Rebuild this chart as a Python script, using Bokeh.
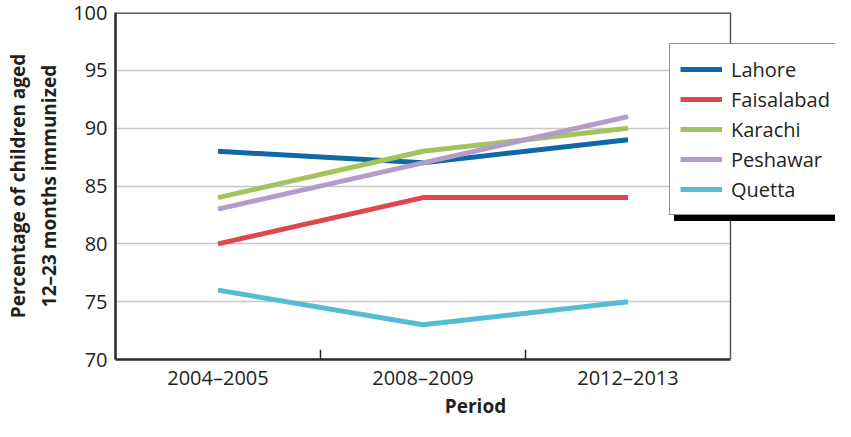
from bokeh.plotting import figure
from bokeh.models import Legend, LegendItem, Range1d, FixedTicker, Span, BoxAnnotation
from bokeh.embed import file_html
from bokeh.resources import INLINE

periods = ["2004–2005", "2008–2009", "2012–2013"]
cities = ["Lahore", "Faisalabad", "Karachi", "Peshawar", "Quetta"]
lahore = [88, 87, 89]
faisalabad = [80, 84, 84]
karachi = [84, 88, 90]
peshawar = [83, 87, 91]
quetta = [76, 73, 75]
series = [lahore, faisalabad, karachi, peshawar, quetta]
colors = ["#0f68a8", "#e0474a", "#a4c35f", "#b39ccb", "#55bcd3"]
y_ticks = [70, 75, 80, 85, 90, 95, 100]

FONT = "Open Sans"
TXT = "#231f20"
DARK = "#2a2a2a"
BORDER = "#555555"

# layout: the plotting frame runs to the right edge so the legend can overhang it;
# the visible chart box covers the category bands only
W, H = 835, 421
LEFT = 115
BOX_W = 615
FRAME_W = W - LEFT
n = len(periods)
x_pos = [i + 0.5 for i in range(n)]          # category centres on the scale
bounds = list(range(1, n))                     # category separators

p = figure(width=W, height=H,
           x_range=Range1d(0, n * FRAME_W / BOX_W),
           y_range=Range1d(y_ticks[0], y_ticks[-1]),
           output_backend="svg", toolbar_location=None,
           min_border_left=LEFT, min_border_right=0, min_border_top=12, min_border_bottom=60)

p.outline_line_color = None
p.background_fill_color = "white"
p.border_fill_color = "white"

p.xgrid.grid_line_color = None
p.ygrid.grid_line_color = "#c8c8c8"
p.ygrid.grid_line_width = 1.5
p.yaxis.ticker = y_ticks
p.xaxis.ticker = FixedTicker(ticks=x_pos)
p.xaxis.major_label_overrides = {x: lab for x, lab in zip(x_pos, periods)}
p.xaxis.bounds = (0, n)

for ax in (p.xaxis, p.yaxis):
    ax.axis_line_color = DARK
    ax.axis_line_width = 2.5
    ax.major_tick_line_color = None
    ax.major_tick_out = 0
    ax.major_tick_in = 0
    ax.minor_tick_line_color = None
    ax.minor_tick_out = 0
    ax.major_label_text_font = FONT
    ax.major_label_text_font_size = "20px"
    ax.major_label_text_color = TXT
    ax.axis_label_text_font = FONT
    ax.axis_label_text_font_size = "19px"
    ax.axis_label_text_font_style = "bold"
    ax.axis_label_text_color = TXT

p.yaxis.major_label_standoff = 8
p.yaxis.axis_label = "Percentage of children aged\n12–23 months immunized"
p.yaxis.axis_label_standoff = 8
p.xaxis.major_label_standoff = 4
p.xaxis.axis_label = "Period"
p.xaxis.axis_label_standoff = -1

# blank the area right of the chart box, then draw its top and right borders
p.add_layout(BoxAnnotation(left=n, fill_color="white", fill_alpha=1.0, line_color=None))
p.segment(x0=[0], y0=[y_ticks[-1]], x1=[n], y1=[y_ticks[-1]], line_color=BORDER, line_width=3)
p.add_layout(Span(location=n, dimension="height", line_color=BORDER, line_width=1.5))

# category separator ticks
p.segment(x0=bounds, y0=[y_ticks[0]] * len(bounds), x1=bounds,
          y1=[y_ticks[0] + 0.85] * len(bounds), line_color=DARK, line_width=1.5)

renderers = []
for name, vals, c in zip(cities, series, colors):
    r = p.line(x=x_pos, y=vals, line_color=c, line_width=5)
    renderers.append(r)

def make_legend(loc, shadow=False):
    items = [LegendItem(label=" " if shadow else nm, renderers=[r])
             for nm, r in zip(cities, renderers)]
    return Legend(items=items, location=loc, orientation="vertical",
                  padding=10, margin=0, spacing=0,
                  label_height=30, glyph_height=30, glyph_width=42, label_standoff=9,
                  label_width=130,
                  label_text_font=FONT, label_text_font_size="20px",
                  label_text_color="black" if shadow else TXT,
                  background_fill_color="black" if shadow else "white",
                  background_fill_alpha=1.0,
                  border_line_color="black" if shadow else DARK,
                  border_line_width=1.5)

p.add_layout(make_legend((559, 138), shadow=True), "center")
p.add_layout(make_legend((554, 144)), "center")

open("out.html", "w").write(file_html(p, INLINE))
